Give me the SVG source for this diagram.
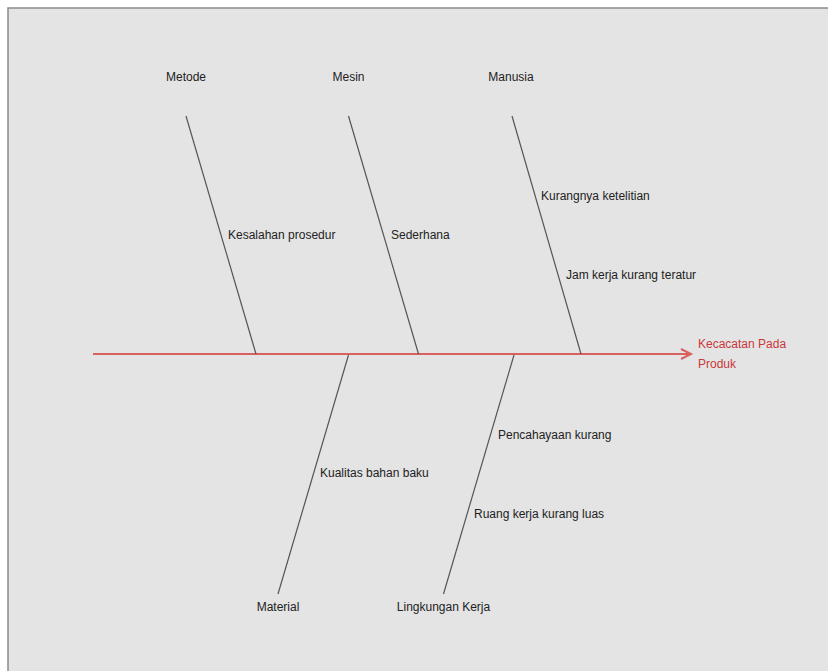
<svg xmlns="http://www.w3.org/2000/svg" width="828" height="671" viewBox="0 0 828 671">
<style>
.lbl{font-family:"Liberation Sans",Arial,sans-serif;font-size:12px;fill:#222}
.cat{text-anchor:middle}
.bone{stroke:#555;stroke-width:1.2;fill:none}
.spine{stroke:#d9605f;stroke-width:2;fill:none}
.eff{font-family:"Liberation Sans",Arial,sans-serif;font-size:12px;fill:#c8383a}
</style>
<defs>
<marker id="arr" markerWidth="14" markerHeight="14" refX="11" refY="6" orient="auto" markerUnits="userSpaceOnUse">
<path d="M1,1 L11,6 L1,11" fill="none" stroke="#d9605f" stroke-width="2"/>
</marker>
</defs>
<rect x="0" y="0" width="828" height="671" fill="#ffffff"/>
<rect x="8" y="8" width="830" height="680" fill="#e4e4e4" stroke="#8a8a8a" stroke-width="1.5"/>
<g id="connectors">
<line class="spine" x1="93" y1="354" x2="691" y2="354" marker-end="url(#arr)"/>
<line class="bone" x1="186" y1="116" x2="256" y2="354"/>
<line class="bone" x1="348.5" y1="116" x2="418.5" y2="354"/>
<line class="bone" x1="512" y1="116" x2="581" y2="354"/>
<line class="bone" x1="348.5" y1="355" x2="278" y2="594"/>
<line class="bone" x1="514" y1="355" x2="443.5" y2="594"/>
</g>
<g id="effect"><text class="eff" x="698" y="348">Kecacatan Pada</text><text class="eff" x="698" y="368">Produk</text></g>
<g id="metode"><text class="lbl cat" x="186" y="81">Metode</text><text class="lbl" x="228" y="239">Kesalahan prosedur</text></g>
<g id="mesin"><text class="lbl cat" x="348.5" y="81">Mesin</text><text class="lbl" x="391" y="239">Sederhana</text></g>
<g id="manusia"><text class="lbl cat" x="511" y="81">Manusia</text><text class="lbl" x="541" y="200">Kurangnya ketelitian</text><text class="lbl" x="566" y="279">Jam kerja kurang teratur</text></g>
<g id="material"><text class="lbl cat" x="278" y="611">Material</text><text class="lbl" x="320" y="477">Kualitas bahan baku</text></g>
<g id="lingkungan"><text class="lbl cat" x="443.5" y="611">Lingkungan Kerja</text><text class="lbl" x="498" y="439">Pencahayaan kurang</text><text class="lbl" x="474" y="518">Ruang kerja kurang luas</text></g>
</svg>
